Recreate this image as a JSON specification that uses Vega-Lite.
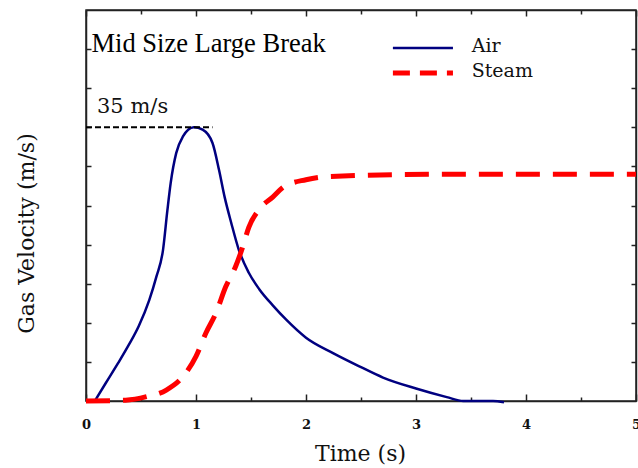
{
  "$schema": "https://vega.github.io/schema/vega-lite/v6.json",
  "width": 550,
  "height": 391,
  "autosize": {"type": "none"},
  "padding": {"left": 86, "top": 10, "right": 2, "bottom": 67},
  "background": "white",
  "config": {
    "view": {"stroke": "#222222", "strokeWidth": 1.5},
    "font": "DejaVu Serif",
    "axis": {"domainColor": "#222222", "domainWidth": 1.5, "tickColor": "#222222", "tickWidth": 1.5, "grid": false}
  },
  "datasets": {
    "air": [
      {"t": 0.08, "v": 0}, {"t": 0.18, "v": 2.3}, {"t": 0.29, "v": 4.8}, {"t": 0.39, "v": 7.2},
      {"t": 0.48, "v": 9.6}, {"t": 0.575, "v": 12.9}, {"t": 0.64, "v": 15.9}, {"t": 0.7, "v": 19.3},
      {"t": 0.74, "v": 24.4}, {"t": 0.77, "v": 27.9}, {"t": 0.82, "v": 31.7}, {"t": 0.88, "v": 33.8},
      {"t": 0.98, "v": 35}, {"t": 1.06, "v": 34.7}, {"t": 1.15, "v": 33.0}, {"t": 1.21, "v": 29.5},
      {"t": 1.26, "v": 26.1}, {"t": 1.32, "v": 22.8}, {"t": 1.39, "v": 19.3}, {"t": 1.48, "v": 16.4},
      {"t": 1.575, "v": 14.3}, {"t": 1.7, "v": 12.2}, {"t": 1.82, "v": 10.4}, {"t": 2.0, "v": 8.1},
      {"t": 2.25, "v": 6.1}, {"t": 2.49, "v": 4.4}, {"t": 2.7, "v": 3.0}, {"t": 3.0, "v": 1.6},
      {"t": 3.28, "v": 0.5}, {"t": 3.43, "v": 0.0}, {"t": 3.7, "v": 0.0}, {"t": 3.8, "v": -0.15}
    ],
    "steam": [
      {"t": 0, "v": 0}, {"t": 0.36, "v": 0.1}, {"t": 0.55, "v": 0.55}, {"t": 0.73, "v": 1.4},
      {"t": 0.88, "v": 3.1}, {"t": 1.0, "v": 5.7}, {"t": 1.09, "v": 8.7}, {"t": 1.18, "v": 11.2},
      {"t": 1.27, "v": 14.6}, {"t": 1.36, "v": 17.2}, {"t": 1.42, "v": 19.5}, {"t": 1.48, "v": 22.2},
      {"t": 1.58, "v": 24.6}, {"t": 1.7, "v": 26.1}, {"t": 1.8, "v": 27.4}, {"t": 2.0, "v": 28.3},
      {"t": 2.19, "v": 28.7}, {"t": 3.22, "v": 29.0}, {"t": 5.0, "v": 29.0}
    ],
    "peak": [{"t": 0, "v": 35}, {"t": 1.15, "v": 35}],
    "one": [{}]
  },
  "layer": [
    {
      "data": {"name": "air"},
      "mark": {"type": "line", "color": "#000080", "strokeWidth": 2.5, "interpolate": "monotone"},
      "encoding": {
        "x": {
          "field": "t", "type": "quantitative",
          "scale": {"domain": [0, 5], "nice": false},
          "axis": {
            "orient": "bottom",
            "values": [0, 0.5, 1, 1.5, 2, 2.5, 3, 3.5, 4, 4.5, 5],
            "tickSize": {"condition": {"test": "datum.value % 1 === 0", "value": -7}, "value": -4},
            "labelExpr": "datum.value % 1 === 0 ? format(datum.value, 'd') : ''",
            "labelFont": "DejaVu Serif", "labelFontSize": 13, "labelFontWeight": "bold", "labelColor": "#111111",
            "labelPadding": 24, "labelFlush": false, "labelOverlap": false, "labelDx": -2,
            "title": "Time (s)", "titleFont": "DejaVu Serif", "titleFontSize": 22, "titleFontWeight": "normal",
            "titleColor": "#111111", "titleBaseline": "alphabetic", "titleY": 59, "titleX": 274
          }
        },
        "y": {
          "field": "v", "type": "quantitative",
          "scale": {"domain": [0, 50], "nice": false},
          "axis": {
            "orient": "left",
            "values": [5, 10, 15, 20, 25, 30, 35, 40, 45],
            "tickSize": -5, "labels": false,
            "title": "Gas Velocity (m/s)", "titleFont": "DejaVu Serif", "titleFontSize": 22, "titleFontWeight": "normal",
            "titleColor": "#111111", "titleAngle": 270, "titleBaseline": "alphabetic", "titleAlign": "center",
            "titleX": -53, "titleY": 223
          }
        }
      }
    },
    {
      "data": {"name": "steam"},
      "mark": {"type": "line", "color": "#FF0000", "strokeWidth": 5, "strokeDash": [24, 13], "interpolate": "monotone"},
      "encoding": {
        "x": {
          "field": "t", "type": "quantitative",
          "scale": {"domain": [0, 5], "nice": false},
          "axis": {
            "orient": "top",
            "values": [0, 0.5, 1, 1.5, 2, 2.5, 3, 3.5, 4, 4.5, 5],
            "tickSize": {"condition": {"test": "datum.value % 1 === 0", "value": -6}, "value": -4},
            "labels": false, "title": null
          }
        },
        "y": {
          "field": "v", "type": "quantitative",
          "scale": {"domain": [0, 50], "nice": false},
          "axis": {
            "orient": "right",
            "values": [5, 10, 15, 20, 25, 30, 35, 40, 45],
            "tickSize": -5, "labels": false, "title": null
          }
        }
      }
    },
    {
      "data": {"name": "peak"},
      "mark": {"type": "line", "color": "#000000", "strokeWidth": 2, "strokeDash": [6, 3]},
      "encoding": {
        "x": {"field": "t", "type": "quantitative", "scale": {"domain": [0, 5], "nice": false}, "axis": null},
        "y": {"field": "v", "type": "quantitative", "scale": {"domain": [0, 50], "nice": false}, "axis": null}
      }
    },
    {
      "data": {"name": "one"},
      "mark": {"type": "rule", "color": "#000080", "strokeWidth": 2.5},
      "encoding": {
        "x": {"datum": 2.79, "type": "quantitative", "scale": {"domain": [0, 5], "nice": false}, "axis": null},
        "x2": {"datum": 3.336},
        "y": {"datum": 45.14, "type": "quantitative", "scale": {"domain": [0, 50], "nice": false}, "axis": null}
      }
    },
    {
      "data": {"name": "one"},
      "mark": {"type": "rule", "color": "#FF0000", "strokeWidth": 5, "strokeDash": [17, 10]},
      "encoding": {
        "x": {"datum": 2.79, "type": "quantitative", "scale": {"domain": [0, 5], "nice": false}, "axis": null},
        "x2": {"datum": 3.336},
        "y": {"datum": 41.94, "type": "quantitative", "scale": {"domain": [0, 50], "nice": false}, "axis": null}
      }
    },
    {
      "data": {"name": "one"},
      "mark": {"type": "text", "text": "Air", "font": "DejaVu Serif", "fontSize": 19, "align": "left", "baseline": "alphabetic", "color": "#111111"},
      "encoding": {
        "x": {"datum": 3.506, "type": "quantitative", "scale": {"domain": [0, 5], "nice": false}, "axis": null},
        "y": {"datum": 44.67, "type": "quantitative", "scale": {"domain": [0, 50], "nice": false}, "axis": null}
      }
    },
    {
      "data": {"name": "one"},
      "mark": {"type": "text", "text": "Steam", "font": "DejaVu Serif", "fontSize": 19, "align": "left", "baseline": "alphabetic", "color": "#111111"},
      "encoding": {
        "x": {"datum": 3.506, "type": "quantitative", "scale": {"domain": [0, 5], "nice": false}, "axis": null},
        "y": {"datum": 41.47, "type": "quantitative", "scale": {"domain": [0, 50], "nice": false}, "axis": null}
      }
    },
    {
      "data": {"name": "one"},
      "mark": {"type": "text", "text": "Mid Size Large Break", "font": "Liberation Serif", "fontSize": 26.5, "align": "left", "baseline": "alphabetic", "color": "#000000"},
      "encoding": {
        "x": {"datum": 0.05, "type": "quantitative", "scale": {"domain": [0, 5], "nice": false}, "axis": null},
        "y": {"datum": 44.6, "type": "quantitative", "scale": {"domain": [0, 50], "nice": false}, "axis": null}
      }
    },
    {
      "data": {"name": "one"},
      "mark": {"type": "text", "text": "35 m/s", "font": "DejaVu Serif", "fontSize": 21, "align": "left", "baseline": "alphabetic", "color": "#111111"},
      "encoding": {
        "x": {"datum": 0.1, "type": "quantitative", "scale": {"domain": [0, 5], "nice": false}, "axis": null},
        "y": {"datum": 36.8, "type": "quantitative", "scale": {"domain": [0, 50], "nice": false}, "axis": null}
      }
    }
  ],
  "resolve": {"axis": {"x": "independent", "y": "independent"}}
}
